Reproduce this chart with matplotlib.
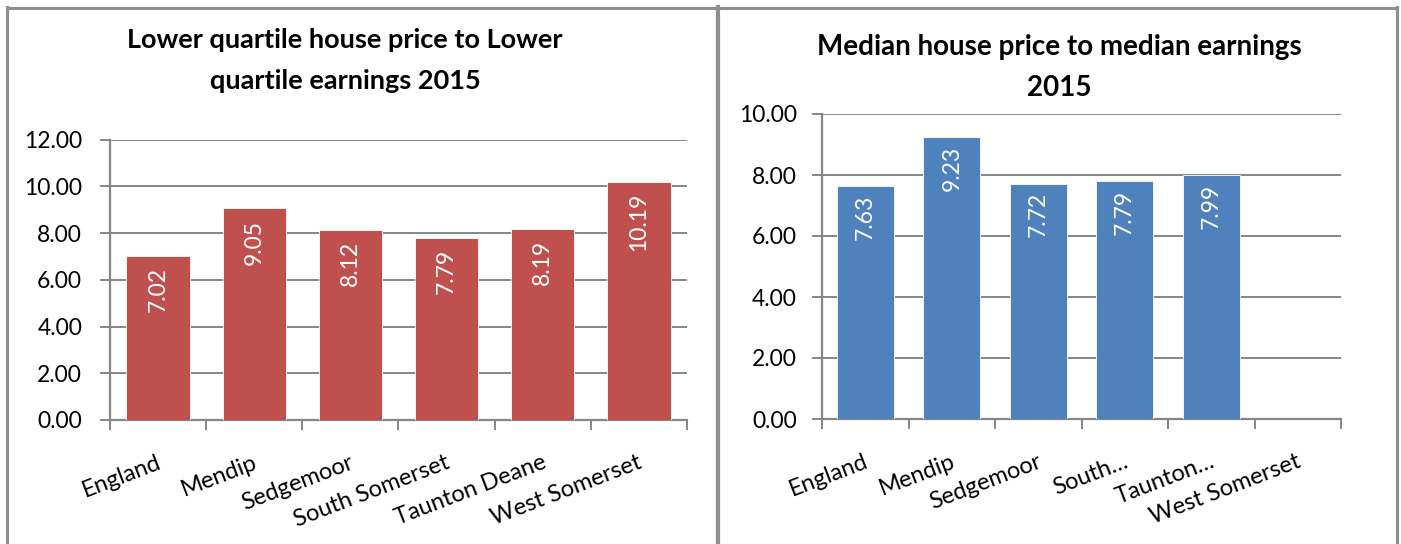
import matplotlib
matplotlib.use("Agg")
import matplotlib.pyplot as plt
from matplotlib.lines import Line2D

plt.rcParams['font.family'] = ['Lato', 'DejaVu Sans']

# ---- data ----
categories_left = ["England", "Mendip", "Sedgemoor", "South Somerset", "Taunton Deane", "West Somerset"]
values_left = [7.02, 9.05, 8.12, 7.79, 8.19, 10.19]
title_left = ["Lower quartile house price to Lower", "quartile earnings 2015"]
yticks_left = [0, 2, 4, 6, 8, 10, 12]

categories_right = ["England", "Mendip", "Sedgemoor", "South…", "Taunton…", "West Somerset"]
values_right = [7.63, 9.23, 7.72, 7.79, 7.99, None]
title_right = ["Median house price to median earnings", "2015"]
yticks_right = [0, 2, 4, 6, 8, 10]

RED = "#C0504D"
BLUE = "#4F81BD"
GRID = "#868686"
FS = 16.5

W, H = 1401, 544
fig = plt.figure(figsize=(W / 100, H / 100), dpi=100)
fig.patch.set_facecolor("white")


def px_box(x0, y0, x1, y1):
    return [x0 / W, 1 - y1 / H, (x1 - x0) / W, (y1 - y0) / H]


def draw_chart(ax, cats, vals, color, yticks, label_off, ypad):
    xs = list(range(len(cats)))
    hv = [v if v is not None else 0 for v in vals]
    ax.bar(xs, hv, width=0.66, color=color, edgecolor="white", linewidth=0.6, zorder=3)
    ax.set_xlim(-0.5, len(cats) - 0.5)
    ax.set_ylim(yticks[0], yticks[-1])
    ax.set_yticks(yticks)
    ax.set_yticklabels([f"{t:.2f}" for t in yticks], fontsize=FS)
    ax.yaxis.grid(True, color=GRID, linewidth=1.4, zorder=0)
    ax.set_axisbelow(True)
    for s in ["top", "right"]:
        ax.spines[s].set_visible(False)
    for s in ["left", "bottom"]:
        ax.spines[s].set_color(GRID)
        ax.spines[s].set_linewidth(1.6)
    ax.tick_params(axis="y", length=7, width=1.4, color=GRID, pad=ypad)
    # category boundary ticks
    ax.set_xticks([i - 0.5 for i in range(len(cats) + 1)])
    ax.set_xticklabels([])
    ax.tick_params(axis="x", length=7, width=1.4, color=GRID)
    for i, c in enumerate(cats):
        ax.annotate(c, xy=(i, 0), xycoords=("data", "axes fraction"),
                    xytext=(-1, -23), textcoords="offset points",
                    rotation=21, rotation_mode="anchor", ha="right", va="top",
                    fontsize=FS + 0.5, color="black")
    for i, v in enumerate(vals):
        if v is None:
            continue
        ax.annotate(f"{v:.2f}", xy=(i, v), xytext=(0, -label_off), textcoords="offset points",
                    rotation=90, ha="center", va="top", color="white", fontsize=FS, zorder=4)


axL = fig.add_axes(px_box(110, 139.5, 687, 420))
draw_chart(axL, categories_left, values_left, RED, yticks_left, 8, 13)
axR = fig.add_axes(px_box(822, 114, 1341, 419))
draw_chart(axR, categories_right, values_right, BLUE, yticks_right, 6, 11)

TFS = 19.5
for k, line in enumerate(title_left):
    fig.text(345 / W, 1 - (48 + 41 * k) / H, line, ha="center", va="baseline",
             fontsize=TFS, fontweight="bold")
for k, line in enumerate(title_right):
    fig.text(1059 / W, 1 - (55 + 41 * k) / H, line, ha="center", va="baseline",
             fontsize=TFS + 0.5, fontweight="bold")

# panel borders
BC = "#8f8f8f"
def hline(x0, x1, y, lw=2.2):
    fig.add_artist(Line2D([x0 / W, x1 / W], [1 - y / H, 1 - y / H], color=BC, linewidth=lw))
def vline(x, y0, y1, lw=2.2):
    fig.add_artist(Line2D([x / W, x / W], [1 - y0 / H, 1 - y1 / H], color=BC, linewidth=lw))

hline(7, 1397, 7.5)
vline(7.5, 7, 560)
vline(718, 7, 560, lw=3.0)
vline(1396.5, 7, 560)

fig.savefig("out.png", dpi=100, facecolor="white")
